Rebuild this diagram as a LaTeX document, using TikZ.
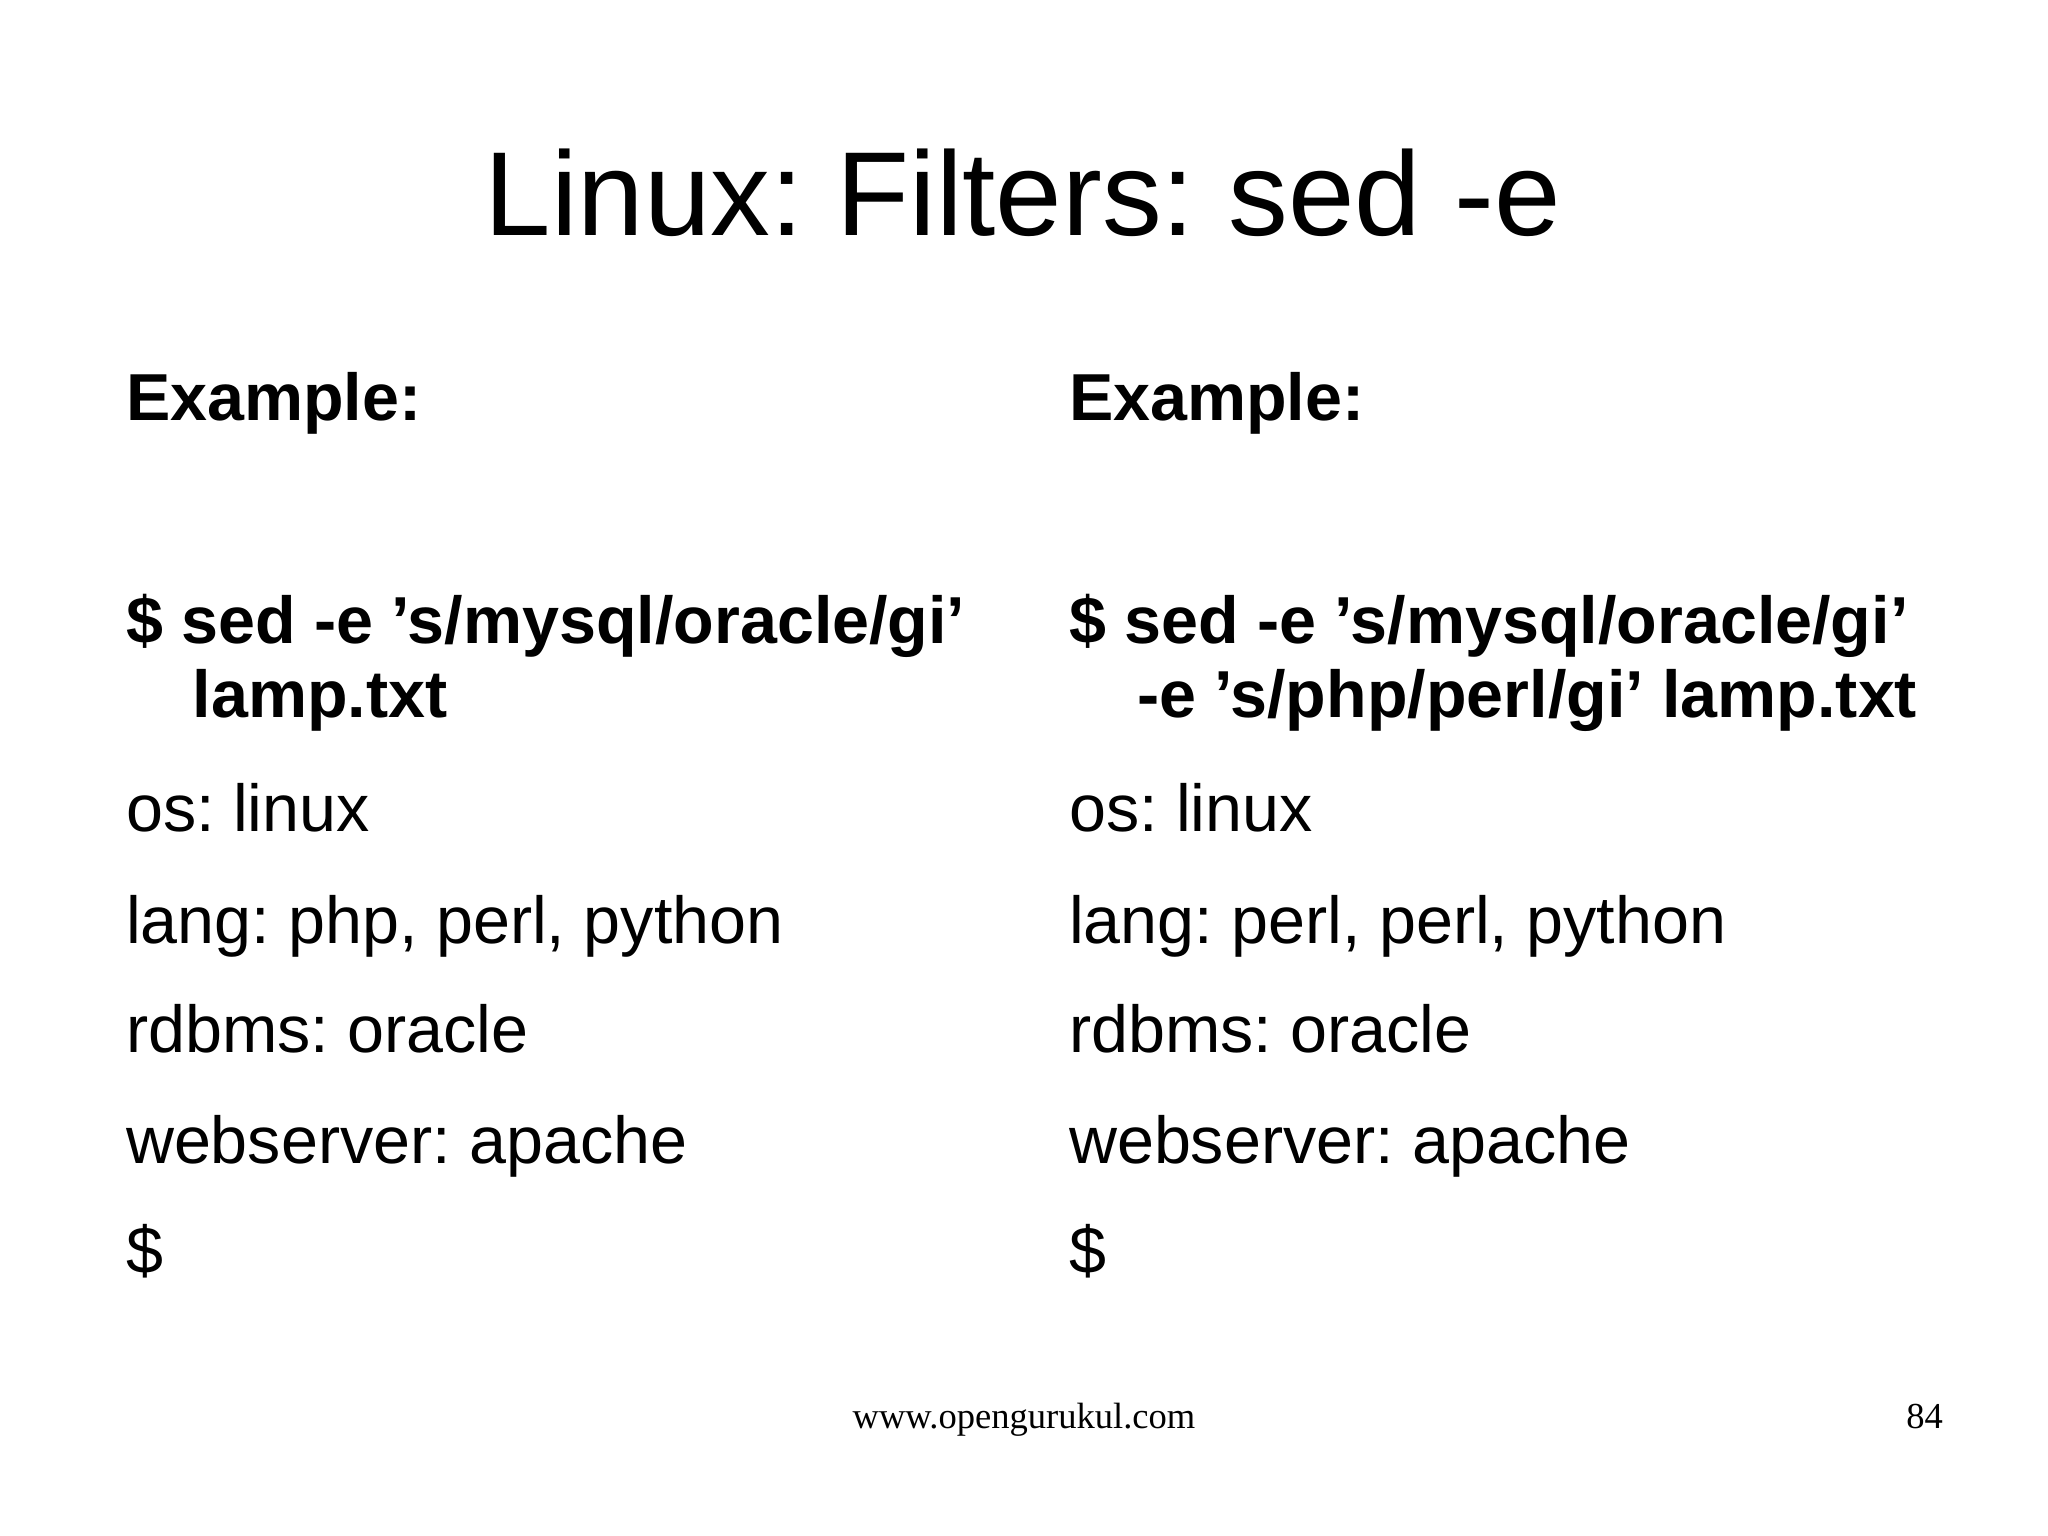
\documentclass[tikz,border=0pt]{standalone}
\usepackage{fontspec}
\setmainfont{Liberation Sans}
\newfontfamily\seriff{Liberation Serif}
\newcommand{\q}{\char"0027\relax}
\begin{document}
\begin{tikzpicture}[x=0.013061cm,y=-0.013061cm,
  t/.style={anchor=base west,inner sep=0pt,font=\frenchspacing\fontsize{18.9}{22}\selectfont},
  b/.style={t,font=\frenchspacing\fontsize{18.9}{22}\selectfont\bfseries}]
\useasboundingbox (0,0) rectangle (1568,1176);
\node[anchor=base,inner sep=0pt,font=\frenchspacing\fontsize{34}{40}\selectfont] (title) at (783,180) {Linux: Filters: sed -e};
\foreach \c/\x in {l/96,r/818}{
  \node[b] (ex\c) at (\x,322) {Example:};
  \node[b] (cmd\c) at (\x,493) {\$ sed -e \q s/mysql/oracle/gi\q};
  \node[t] (os\c) at (\x,637) {os: linux};
  \node[t] (rd\c) at (\x,806) {rdbms: oracle};
  \node[t] (ws\c) at (\x,891) {webserver: apache};
  \node[t] (pr\c) at (\x,975) {\$};
}
\node[b] (c2l) at (147,549) {lamp.txt};
\node[b] (c2r) at (870,549) {-e \q s/php/perl/gi\q{} lamp.txt};
\node[t] (langl) at (96,722) {lang: php, perl, python};
\node[t] (langr) at (818,722) {lang: perl, perl, python};
\node[anchor=base,inner sep=0pt,font=\seriff\fontsize{10.4}{12}\selectfont] (foot) at (784,1094) {www.opengurukul.com};
\node[anchor=base east,inner sep=0pt,font=\seriff\fontsize{10.4}{12}\selectfont] (pg) at (1488,1094) {84};
\end{tikzpicture}
\end{document}
